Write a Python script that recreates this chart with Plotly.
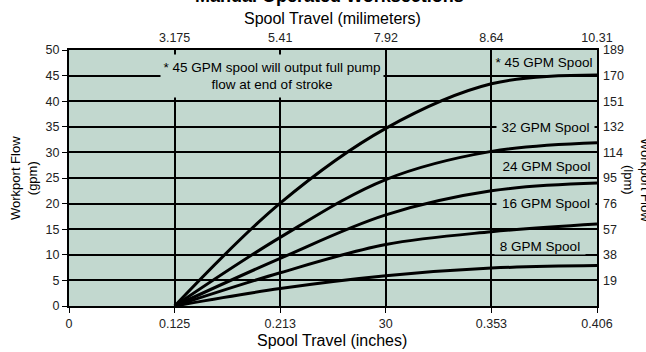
import plotly.graph_objects as go

# ---- data ----
x_positions = [0, 1, 2, 3, 4, 5]
inch_labels = ["0", "0.125", "0.213", "30", "0.353", "0.406"]
mm_positions = [1, 2, 3, 4, 5]
mm_labels = ["3.175", "5.41", "7.92", "8.64", "10.31"]
gpm_ticks = [0, 5, 10, 15, 20, 25, 30, 35, 40, 45, 50]
lpm_positions = [5, 10, 15, 20, 25, 30, 35, 40, 45, 50]
lpm_labels = ["19", "38", "57", "76", "95", "114", "132", "151", "170", "189"]

curve_x = [1, 2, 3, 4, 5]
flow_45 = [0, 20.1, 34.7, 43.4, 45.1]
flow_32 = [0, 13.4, 24.7, 30.2, 31.9]
flow_24 = [0, 9.3, 17.8, 22.5, 24.0]
flow_16 = [0, 6.5, 12.0, 14.5, 16.0]
flow_8 = [0, 3.4, 5.9, 7.4, 7.9]

FONT = "Liberation Sans, Arial, sans-serif"
BG = "rgb(194,216,207)"

fig = go.Figure()
for ys in [flow_45, flow_32, flow_24, flow_16, flow_8]:
    fig.add_trace(go.Scatter(x=curve_x, y=ys, mode="lines",
                             line=dict(color="black", width=3, shape="spline"),
                             showlegend=False, hoverinfo="skip"))
# invisible trace to activate the secondary axes
fig.add_trace(go.Scatter(x=curve_x, y=flow_45, xaxis="x2", yaxis="y2", mode="lines",
                         line=dict(color="rgba(0,0,0,0)"), showlegend=False, hoverinfo="skip"))

L, R, T, B = 69, 49, 50, 46
W, H = 646, 352
pw, ph = W - L - R, H - T - B

def px(xp):
    return (xp - L) / pw

def py(yp):
    return (H - B - yp) / ph

fig.update_layout(
    width=W, height=H,
    margin=dict(l=L, r=R, t=T, b=B),
    paper_bgcolor="white", plot_bgcolor=BG,
    font=dict(family=FONT, color="black", size=12),
    xaxis=dict(range=[0, 5], tickvals=x_positions, ticktext=inch_labels,
               showgrid=True, gridcolor="black", gridwidth=2, zeroline=False,
               showline=True, linecolor="black", linewidth=2, mirror=True,
               ticks="outside", ticklen=5, tickwidth=1, tickcolor="black",
               tickfont=dict(size=12.5, family=FONT, color="#222")),
    xaxis2=dict(range=[0, 5], tickvals=mm_positions, ticktext=mm_labels,
                overlaying="x", side="top", showgrid=False, zeroline=False,
                showline=False, ticks="", ticklabelstandoff=5,
                tickfont=dict(size=12.5, family=FONT, color="#222")),
    yaxis=dict(range=[0, 50], tickvals=gpm_ticks,
               showgrid=True, gridcolor="black", gridwidth=2, zeroline=False,
               showline=True, linecolor="black", linewidth=2, mirror=True,
               ticks="outside", ticklen=5, tickwidth=1, tickcolor="black",
               tickfont=dict(size=12.5, family=FONT, color="#222")),
    yaxis2=dict(range=[0, 50], tickvals=lpm_positions, ticktext=lpm_labels,
                overlaying="y", side="right", showgrid=False, zeroline=False,
                showline=False, ticks="", ticklabelstandoff=5,
                tickfont=dict(size=12.5, family=FONT, color="#222")),
)

ann = []
# title (mostly cut off at top, as in the original)
ann.append(dict(text="<b>Manual Operated Worksections</b>", x=px(329), y=py(-4),
                xref="paper", yref="paper", showarrow=False,
                font=dict(size=18, family=FONT), xanchor="center", yanchor="middle"))
ann.append(dict(text="Spool Travel (milimeters)", x=px(332), y=py(18),
                xref="paper", yref="paper", showarrow=False,
                font=dict(size=16, family=FONT), xanchor="center", yanchor="middle"))
ann.append(dict(text="Spool Travel (inches)", x=px(332), y=py(340),
                xref="paper", yref="paper", showarrow=False,
                font=dict(size=16, family=FONT), xanchor="center", yanchor="middle"))
ann.append(dict(text="Workport Flow<br>(gpm)", x=px(24), y=py(178),
                xref="paper", yref="paper", showarrow=False, textangle=-90,
                font=dict(size=13, family=FONT), xanchor="center", yanchor="middle"))
ann.append(dict(text="Workport Flow<br>(lpm)", x=px(637), y=py(180),
                xref="paper", yref="paper", showarrow=False, textangle=90,
                font=dict(size=13, family=FONT), xanchor="center", yanchor="middle"))
# note box
ann.append(dict(text="* 45 GPM spool will output full pump<br>flow at end of stroke",
                x=px(272), y=py(76), xref="paper", yref="paper", showarrow=False,
                font=dict(size=13.5, family=FONT), xanchor="center", yanchor="middle",
                bgcolor=BG, width=222, height=42, borderpad=0, align="center"))
labels = [("* 45 GPM Spool", 544, 62, 102, 20),
          ("32 GPM Spool", 545, 127, 97, 16),
          ("24 GPM Spool", 546, 166, 97, 16),
          ("16 GPM Spool", 546, 203, 98, 16),
          ("8 GPM Spool", 540, 246, 90, 16)]
for txt, cx, cy, w, h in labels:
    ann.append(dict(text=txt, x=px(cx), y=py(cy), xref="paper", yref="paper",
                    showarrow=False, font=dict(size=13.5, family=FONT),
                    xanchor="center", yanchor="middle", bgcolor=BG,
                    width=w, height=h, borderpad=0))
fig.update_layout(annotations=ann)

fig.write_html("out.html", config={"displayModeBar": False},
               post_script="document.body.style.margin='0';document.body.style.overflow='hidden';")
